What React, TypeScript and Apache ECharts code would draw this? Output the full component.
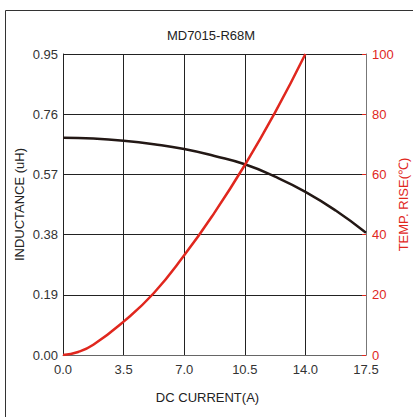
import React, { useEffect, useRef } from "react";
import * as echarts from "echarts";

const titleText = "MD7015-R68M";
const xName = "DC CURRENT(A)";
const yLeftName = "INDUCTANCE (uH)";
const yRightName = "TEMP. RISE(℃)";

const currents = [0, 1.75, 3.5, 5.25, 7, 8.75, 10.5, 12.25, 14, 15.75, 17.5];
const inductance = [0.686, 0.683, 0.676, 0.665, 0.65, 0.628, 0.602, 0.563, 0.515, 0.456, 0.386];
const tempCurrents = [0, 0.875, 1.75, 3.5, 5.25, 7, 8.75, 10.5, 12.25, 14];
const tempRise = [0, 1.0, 3.4, 11.1, 20.6, 33.1, 47.3, 63.1, 80.6, 100];

const RED = "#e0271e";
const FONT = "Liberation Sans, Arial, sans-serif";

export default function App() {
  const ref = useRef<HTMLDivElement>(null);
  useEffect(() => {
    if (!ref.current) return;
    const chart = echarts.init(ref.current, null, { renderer: "svg" });
    chart.setOption({
      animation: false,
      textStyle: { fontFamily: FONT },
      grid: { left: 63, right: 47, top: 54, bottom: 62, containLabel: false, outerBoundsMode: "none" },
      graphic: [
        {
          type: "rect",
          shape: { x: 5.5, y: 10.5, width: 600, height: 600 },
          style: { fill: "none", stroke: "#333", lineWidth: 1 },
          silent: true,
          z: -1,
        },
        {
          type: "text",
          x: 211,
          y: 35,
          style: {
            text: titleText,
            fontSize: 13,
            fontFamily: FONT,
            fill: "#222",
            textAlign: "center",
            textVerticalAlign: "middle",
          },
        },
      ],
      xAxis: {
        type: "value",
        min: 0,
        max: 17.5,
        interval: 3.5,
        name: xName,
        nameLocation: "middle",
        nameGap: 36,
        nameMoveOverlap: false,
        nameTextStyle: { color: "#222", fontSize: 13, fontFamily: FONT, padding: [0, 14, 0, 0] },
        axisLine: { show: true, lineStyle: { color: "#666", width: 1 } },
        axisTick: { show: false },
        axisLabel: {
          color: "#333",
          fontSize: 13,
          fontFamily: FONT,
          margin: 8,
          formatter: (v: number) => v.toFixed(1),
        },
        splitLine: { show: true, lineStyle: { color: "#222", width: 1 } },
      },
      yAxis: [
        {
          type: "value",
          min: 0,
          max: 0.95,
          interval: 0.19,
          name: yLeftName,
          nameLocation: "middle",
          nameRotate: 90,
          nameGap: 37,
          nameMoveOverlap: false,
          nameTextStyle: { color: "#222", fontSize: 13, fontFamily: FONT },
          axisLine: { show: true, lineStyle: { color: "#222", width: 1 } },
          axisTick: { show: false },
          axisLabel: {
            color: "#333",
            fontSize: 13,
            fontFamily: FONT,
            margin: 5,
            formatter: (v: number) => v.toFixed(2),
          },
          splitLine: { show: true, lineStyle: { color: "#222", width: 1 } },
        },
        {
          type: "value",
          min: 0,
          max: 100,
          interval: 20,
          position: "right",
          name: yRightName,
          nameLocation: "middle",
          nameRotate: 90,
          nameGap: 31,
          nameMoveOverlap: false,
          nameTextStyle: { color: RED, fontSize: 13, fontFamily: FONT },
          axisLine: { show: true, lineStyle: { color: "#777", width: 1 } },
          axisTick: { show: true, inside: true, length: 4, lineStyle: { color: RED, width: 1 } },
          axisLabel: { color: RED, fontSize: 13, fontFamily: FONT, margin: 6 },
          splitLine: { show: false },
        },
      ],
      series: [
        {
          type: "line",
          yAxisIndex: 0,
          smooth: true,
          symbol: "none",
          data: currents.map((c, i) => [c, inductance[i]]),
          lineStyle: { color: "#231815", width: 2.5 },
          z: 3,
        },
        {
          type: "line",
          yAxisIndex: 1,
          smooth: true,
          symbol: "none",
          data: tempCurrents.map((c, i) => [c, tempRise[i]]),
          lineStyle: { color: RED, width: 2.5 },
          z: 4,
        },
      ],
    });
    return () => chart.dispose();
  }, []);
  return (
    <div
      ref={ref}
      style={{ position: "fixed", left: 0, top: 0, width: 413, height: 417, background: "#fff" }}
    />
  );
}
